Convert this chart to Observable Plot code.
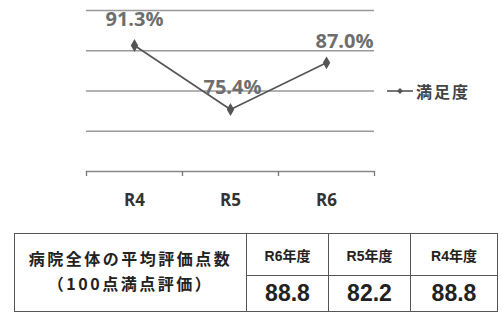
<!DOCTYPE html>
<html><head><meta charset="utf-8">
<script src="https://cdn.jsdelivr.net/npm/d3@7"></script>
<script src="https://cdn.jsdelivr.net/npm/@observablehq/plot@0.6"></script>
<style>
html,body{margin:0;padding:0;background:#fff;}
#wrap{position:relative;width:502px;height:312px;overflow:hidden;font-family:"Noto Sans CJK JP",sans-serif;}
#chart{position:absolute;left:0;top:0;}
#legend{position:absolute;left:386px;top:79px;display:flex;align-items:center;color:#444;font-weight:700;font-size:16px;letter-spacing:2px;}
#tbl{position:absolute;left:14px;top:233px;border-collapse:collapse;color:#222;}
#tbl td{border:1.6px solid #555;padding:0;text-align:center;font-weight:700;}
#tbl td.lab{width:231px;font-size:16px;letter-spacing:2.5px;line-height:25px;padding-bottom:4px;}
#tbl td.hd{height:41px;font-family:"Liberation Sans","Noto Sans CJK JP",sans-serif;font-size:14px;}
#tbl td.val{height:35px;font-family:"Liberation Sans",sans-serif;font-size:23px;}
</style></head>
<body><div id="wrap"><div id="chart"></div>
<div id="legend"><svg width="28" height="10"><line x1="1" y1="5" x2="27" y2="5" stroke="#555" stroke-width="1.6"/><path d="M14,2 L17,5 L14,8 L11,5Z" fill="#555"/></svg><span style="margin-left:2px">満足度</span></div>
<table id="tbl"></table>
</div>
<script>
const categories = ["R4", "R5", "R6"];
const satisfaction = [91.3, 75.4, 87.0];
const seriesName = "満足度";
const tableTitle = ["病院全体の平均評価点数", "（100点満点評価）"];
const tableYears = ["R6年度", "R5年度", "R4年度"];
const tableScores = [88.8, 82.2, 88.8];
const gridValues = [70, 80, 90, 100];

const data = categories.map((c, i) => ({cat: c, idx: i, value: satisfaction[i]}));
const labelFont = {fontFamily: "'Open Sans', sans-serif", fontWeight: 700, fontSize: 20, fill: "#6e6e6e"};
const offsets = [{dx: 0, dy: -26}, {dx: 2, dy: -22}, {dx: 18, dy: -21}];

const chart = Plot.plot({
  width: 502, height: 215,
  marginTop: 10, marginBottom: 44, marginLeft: 86, marginRight: 128,
  x: {type: "linear", domain: [0, categories.length], axis: null},
  y: {domain: [60, 100], axis: null},
  style: {background: "transparent"},
  marks: [
    Plot.ruleY(gridValues, {stroke: "#999", strokeWidth: 1.5}),
    Plot.ruleY([60], {stroke: "#888", strokeWidth: 1.4}),
    Plot.axisX({ticks: d3.range(categories.length + 1), tickFormat: () => "", tickSize: 5, stroke: "#777", strokeWidth: 1.3}),
    Plot.axisX({ticks: data.map(d => d.idx + 0.5), tickSize: 0, tickPadding: 22,
      tickFormat: v => categories[Math.floor(v)], fontSize: 17, fontWeight: 700, fill: "#333",
      fontFamily: "'Open Sans', sans-serif"}),
    Plot.line(data, {x: d => d.idx + 0.5, y: "value", stroke: "#555", strokeWidth: 1.6}),
    Plot.dot(data, {x: d => d.idx + 0.5, y: "value", symbol: "diamond", r: 3, fill: "#555", stroke: "#555"}),
    ...data.map((d, i) => Plot.text([d], {x: d => d.idx + 0.5, y: "value",
      text: d => d.value.toFixed(1) + "%", ...labelFont, ...offsets[i]}))
  ]
});
document.getElementById("chart").appendChild(chart);

const tbl = document.getElementById("tbl");
const r1 = tbl.insertRow();
const c0 = r1.insertCell(); c0.rowSpan = 2; c0.className = "lab";
c0.innerHTML = tableTitle[0] + "<br>" + tableTitle[1];
tableYears.forEach(y => { const c = r1.insertCell(); c.className = "hd"; c.textContent = y; });
const r2 = tbl.insertRow();
tableScores.forEach((v, i) => { const c = r2.insertCell(); c.className = "val"; c.textContent = v.toFixed(1);
  c.style.width = (i === 2 ? 86 : 81) + "px"; });
</script>
</body></html>
